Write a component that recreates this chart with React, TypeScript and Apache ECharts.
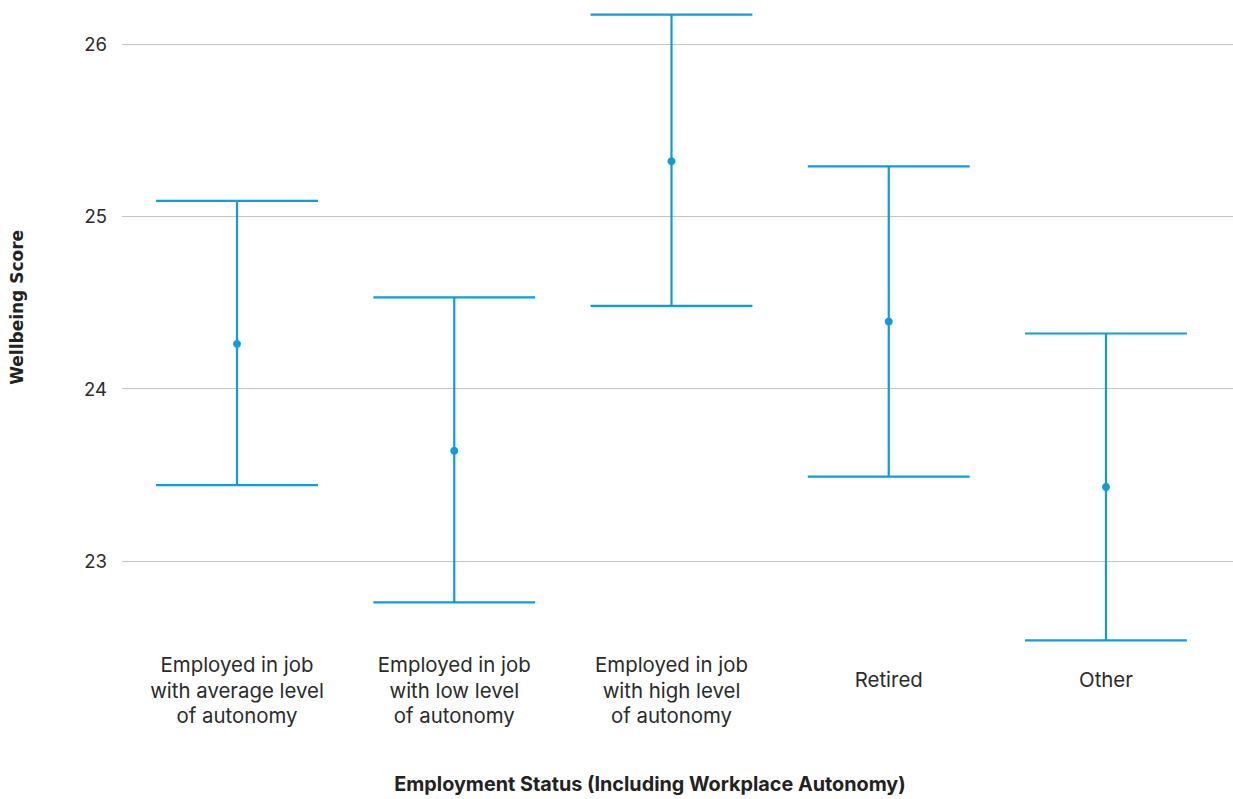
import React, { useEffect, useRef } from "react";
import * as echarts from "echarts";

const categories = [
  "Employed in job\nwith average level\nof autonomy",
  "Employed in job\nwith low level\nof autonomy",
  "Employed in job\nwith high level\nof autonomy",
  "Retired",
  "Other",
];
const means = [24.26, 23.64, 25.32, 24.39, 23.43];
const lower = [23.44, 22.76, 24.48, 23.49, 22.54];
const upper = [25.09, 24.53, 26.17, 25.29, 24.32];
const gridValues = [23, 24, 25, 26];

const BLUE = "#0f9dd9";
const FONT = "Inter, 'Noto Sans', sans-serif";

export default function App() {
  const ref = useRef<HTMLDivElement>(null);
  useEffect(() => {
    document.body.style.margin = "0";
    const chart = echarts.init(ref.current!, null, { renderer: "svg" });
    const yMin = 22.5;
    const yMax = 26.2;
    const top = 9.5;
    const height = 637.7;
    const option: any = {
      animation: false,
      title: {
        text: "Employment Status (Including Workplace Autonomy)",
        left: 645,
        top: 769,
        textAlign: "center",
        textStyle: {
          fontSize: 19.8,
          fontWeight: "bold",
          color: "#222",
          fontFamily: FONT,
        },
      },
      grid: [
        { left: 115, right: 0, top, height },
        { left: 128.4, right: 18.4, top, height },
      ],
      xAxis: [
        { type: "value", gridIndex: 0, min: 0, max: 1, show: false },
        {
          type: "category",
          gridIndex: 1,
          data: categories.map((c) =>
            c.indexOf("\n") < 0
              ? { value: c, textStyle: { padding: [15, 0, 0, 0] } }
              : c
          ),
          axisLine: { show: false },
          axisTick: { show: false },
          axisLabel: {
            interval: 0,
            margin: 5,
            fontSize: 20.4,
            lineHeight: 25.5,
            color: "#2b2b2b",
            fontFamily: FONT,
            verticalAlign: "top",
          },
        },
      ],
      yAxis: [
        {
          type: "value",
          gridIndex: 0,
          min: yMin,
          max: yMax,
          interval: 0.5,
          axisLine: { show: false },
          axisTick: { show: false },
          splitLine: { show: false },
          axisLabel: {
            margin: 15,
            fontSize: 18.5,
            color: "#2b2b2b",
            fontFamily: FONT,
            formatter: (v: number) =>
              Math.abs(v - Math.round(v)) < 1e-6 ? String(Math.round(v)) : "",
          },
          name: "Wellbeing Score",
          nameLocation: "middle",
          nameGap: 97,
          nameRotate: 90,
          nameTextStyle: {
            fontSize: 17,
            fontWeight: "bold",
            color: "#222",
            fontFamily: "'DejaVu Sans', sans-serif",
            padding: [0, 0, 0, 42],
          },
        },
        {
          type: "value",
          gridIndex: 1,
          min: yMin,
          max: yMax,
          show: false,
          splitLine: { show: false },
        },
      ],
      series: [
        {
          type: "line",
          xAxisIndex: 0,
          yAxisIndex: 0,
          data: [],
          markLine: {
            silent: true,
            symbol: "none",
            label: { show: false },
            lineStyle: { color: "#c4c4c4", width: 1.2, type: "solid" },
            data: gridValues.map((v) => ({ yAxis: v })),
          },
        },
        {
          type: "custom",
          xAxisIndex: 1,
          yAxisIndex: 1,
          z: 5,
          data: categories.map((_, i) => [i, lower[i], upper[i], means[i]]),
          renderItem: (params: any, api: any) => {
            const i = api.value(0);
            const lo = api.coord([i, api.value(1)]);
            const hi = api.coord([i, api.value(2)]);
            const mid = api.coord([i, api.value(3)]);
            const half = (api.size([1, 0])[0] * 0.745) / 2;
            const style = { stroke: BLUE, lineWidth: 2.2 };
            return {
              type: "group",
              children: [
                { type: "line", shape: { x1: hi[0], y1: hi[1], x2: lo[0], y2: lo[1] }, style },
                { type: "line", shape: { x1: hi[0] - half, y1: hi[1], x2: hi[0] + half, y2: hi[1] }, style },
                { type: "line", shape: { x1: lo[0] - half, y1: lo[1], x2: lo[0] + half, y2: lo[1] }, style },
                { type: "circle", shape: { cx: mid[0], cy: mid[1], r: 4 }, style: { fill: BLUE } },
              ],
            };
          },
        },
      ],
    };
    chart.setOption(option);
    return () => chart.dispose();
  }, []);
  return <div ref={ref} style={{ width: 1233, height: 799 }} />;
}
